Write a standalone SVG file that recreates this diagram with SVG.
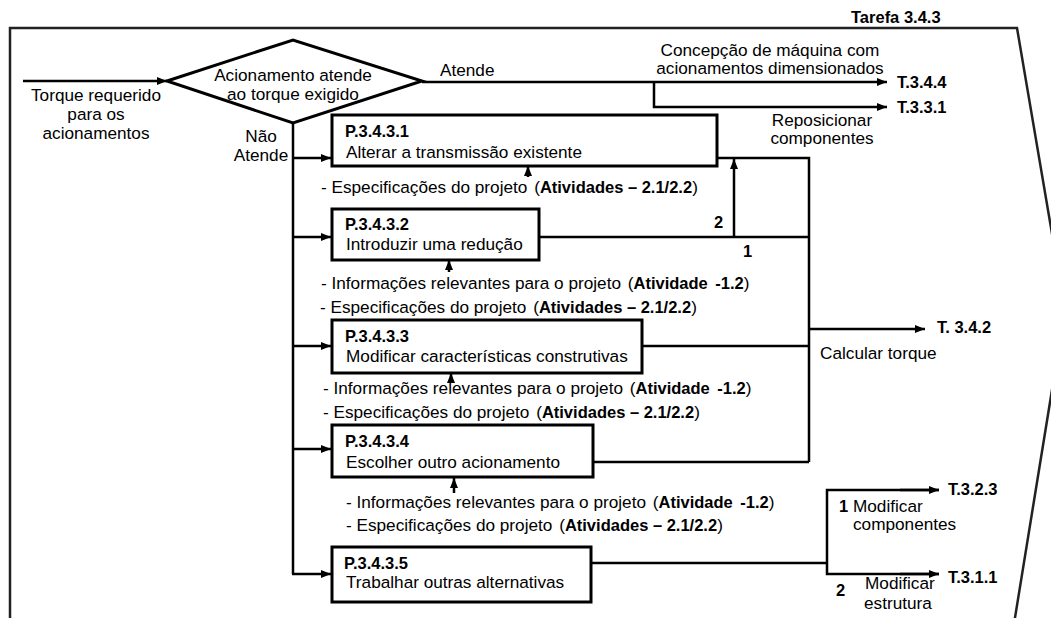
<svg xmlns="http://www.w3.org/2000/svg" width="1051" height="618" viewBox="0 0 1051 618">
<style>
text{font-family:"Liberation Sans",Arial,sans-serif;font-size:17.2px;fill:#000}
.b{font-weight:bold;font-size:16.5px}
.bi{font-weight:bold;font-size:16.5px}
.c{text-anchor:middle}
.box{fill:#fff;stroke:#000;stroke-width:3}
.ln{fill:none;stroke:#000;stroke-width:2.5}
.fr{fill:none;stroke:#222;stroke-width:2.5}
</style>
<defs>
<marker id="ah" markerUnits="userSpaceOnUse" markerWidth="10" markerHeight="8" refX="10" refY="4" orient="auto">
<path d="M0,0 L10,4 L0,8 z" fill="#000"/>
</marker>
</defs>
<rect width="1051" height="618" fill="#fff"/>
<g id="frame">
<polyline class="fr" points="10,620 10,28 1017,28 1065,310 1013,630"/>
<text class="b" x="851" y="23">Tarefa 3.4.3</text>
</g>
<g id="connectors">
<line class="ln" x1="23" y1="81" x2="167" y2="81" marker-end="url(#ah)"/>
<line class="ln" x1="422" y1="82" x2="887" y2="82" marker-end="url(#ah)"/>
<polyline class="ln" points="654,82 654,107 887,107" marker-end="url(#ah)"/>
<line class="ln" x1="293" y1="123" x2="293" y2="574"/>
<line class="ln" x1="293" y1="158" x2="331" y2="158" marker-end="url(#ah)"/>
<line class="ln" x1="293" y1="237" x2="331" y2="237" marker-end="url(#ah)"/>
<line class="ln" x1="293" y1="346" x2="331" y2="346" marker-end="url(#ah)"/>
<line class="ln" x1="293" y1="449" x2="331" y2="449" marker-end="url(#ah)"/>
<line class="ln" x1="292" y1="574" x2="331" y2="574" marker-end="url(#ah)"/>
<polyline class="ln" points="717,158 809,158 809,462"/>
<line class="ln" x1="539" y1="237" x2="809" y2="237"/>
<line class="ln" x1="734" y1="237" x2="734" y2="159" marker-end="url(#ah)"/>
<line class="ln" x1="642" y1="346" x2="809" y2="346"/>
<line class="ln" x1="593" y1="462" x2="809" y2="462"/>
<line class="ln" x1="809" y1="329" x2="925" y2="329" marker-end="url(#ah)"/>
<line class="ln" x1="591" y1="563" x2="827" y2="563"/>
<polyline class="ln" points="939,490 827,490 827,574 939,574"/>
<line class="ln" x1="900" y1="490" x2="939" y2="490" marker-end="url(#ah)"/>
<line class="ln" x1="900" y1="574" x2="939" y2="574" marker-end="url(#ah)"/>
<line class="ln" x1="528" y1="177" x2="528" y2="166" marker-end="url(#ah)"/>
<line class="ln" x1="449" y1="272" x2="449" y2="260" marker-end="url(#ah)"/>
<line class="ln" x1="451" y1="382" x2="451" y2="373" marker-end="url(#ah)"/>
<line class="ln" x1="454" y1="493" x2="454" y2="478" marker-end="url(#ah)"/>
</g>
<g id="input-label">
<text class="c" x="96" y="101">Torque requerido</text>
<text class="c" x="96" y="120">para os</text>
<text class="c" x="96" y="139">acionamentos</text>
</g>
<g id="decision">
<polygon points="167,81 293,40 422,81 293,123" fill="#fff" stroke="#000" stroke-width="3"/>
<text class="c" x="293" y="81">Acionamento atende</text>
<text class="c" x="293" y="100">ao torque exigido</text>
</g>
<g id="labels">
<text x="440" y="76">Atende</text>
<text class="c" x="261" y="142">Não</text>
<text class="c" x="261" y="161">Atende</text>
<text class="c" x="770" y="56">Concepção de máquina com</text>
<text class="c" x="770" y="74">acionamentos dimensionados</text>
<text class="b" x="897" y="88">T.3.4.4</text>
<text class="b" x="897" y="113">T.3.3.1</text>
<text class="c" x="822" y="126">Reposicionar</text>
<text class="c" x="822" y="144">componentes</text>
<text class="b" x="714" y="228">2</text>
<text class="b" x="743" y="257">1</text>
<text class="b" x="937" y="333">T. 3.4.2</text>
<text x="820" y="359">Calcular torque</text>
<text class="b" x="948" y="495">T.3.2.3</text>
<text class="b" x="948" y="583">T.3.1.1</text>
<text x="839" y="512"><tspan class="bi">1</tspan> Modificar</text>
<text x="853" y="530">componentes</text>
<text class="b" x="836" y="596">2</text>
<text x="865" y="589">Modificar</text>
<text x="864" y="609">estrutura</text>
</g>
<g id="p1">
<rect class="box" x="332" y="115" width="385" height="51"/>
<text class="b" x="345" y="137">P.3.4.3.1</text>
<text x="346" y="158">Alterar a transmissão existente</text>
</g>
<g id="p1-inputs">
<text x="321" y="193">- Especificações do projeto <tspan dx="2">(</tspan><tspan class="bi">Atividades – 2.1/2.2</tspan>)</text>
</g>
<g id="p2">
<rect class="box" x="332" y="209" width="207" height="51"/>
<text class="b" x="345" y="230">P.3.4.3.2</text>
<text x="346" y="250">Introduzir uma redução</text>
</g>
<g id="p2-inputs">
<text x="321" y="289">- Informações relevantes para o projeto <tspan dx="2">(</tspan><tspan class="bi">Atividade <tspan dx="3">-1.2</tspan></tspan>)</text>
<text x="320" y="313">- Especificações do projeto <tspan dx="2">(</tspan><tspan class="bi">Atividades – 2.1/2.2</tspan>)</text>
</g>
<g id="p3">
<rect class="box" x="332" y="320" width="310" height="53"/>
<text class="b" x="345" y="342">P.3.4.3.3</text>
<text x="346" y="362">Modificar características construtivas</text>
</g>
<g id="p3-inputs">
<text x="323" y="394">- Informações relevantes para o projeto <tspan dx="2">(</tspan><tspan class="bi">Atividade <tspan dx="3">-1.2</tspan></tspan>)</text>
<text x="323" y="418">- Especificações do projeto <tspan dx="2">(</tspan><tspan class="bi">Atividades – 2.1/2.2</tspan>)</text>
</g>
<g id="p4">
<rect class="box" x="332" y="425" width="261" height="52"/>
<text class="b" x="345" y="447">P.3.4.3.4</text>
<text x="346" y="468">Escolher outro acionamento</text>
</g>
<g id="p4-inputs">
<text x="346" y="508">- Informações relevantes para o projeto <tspan dx="2">(</tspan><tspan class="bi">Atividade <tspan dx="3">-1.2</tspan></tspan>)</text>
<text x="346" y="531">- Especificações do projeto <tspan dx="2">(</tspan><tspan class="bi">Atividades – 2.1/2.2</tspan>)</text>
</g>
<g id="p5">
<rect class="box" x="332" y="547" width="259" height="55"/>
<text class="b" x="344" y="569">P.3.4.3.5</text>
<text x="346" y="588">Trabalhar outras alternativas</text>
</g>
</svg>
